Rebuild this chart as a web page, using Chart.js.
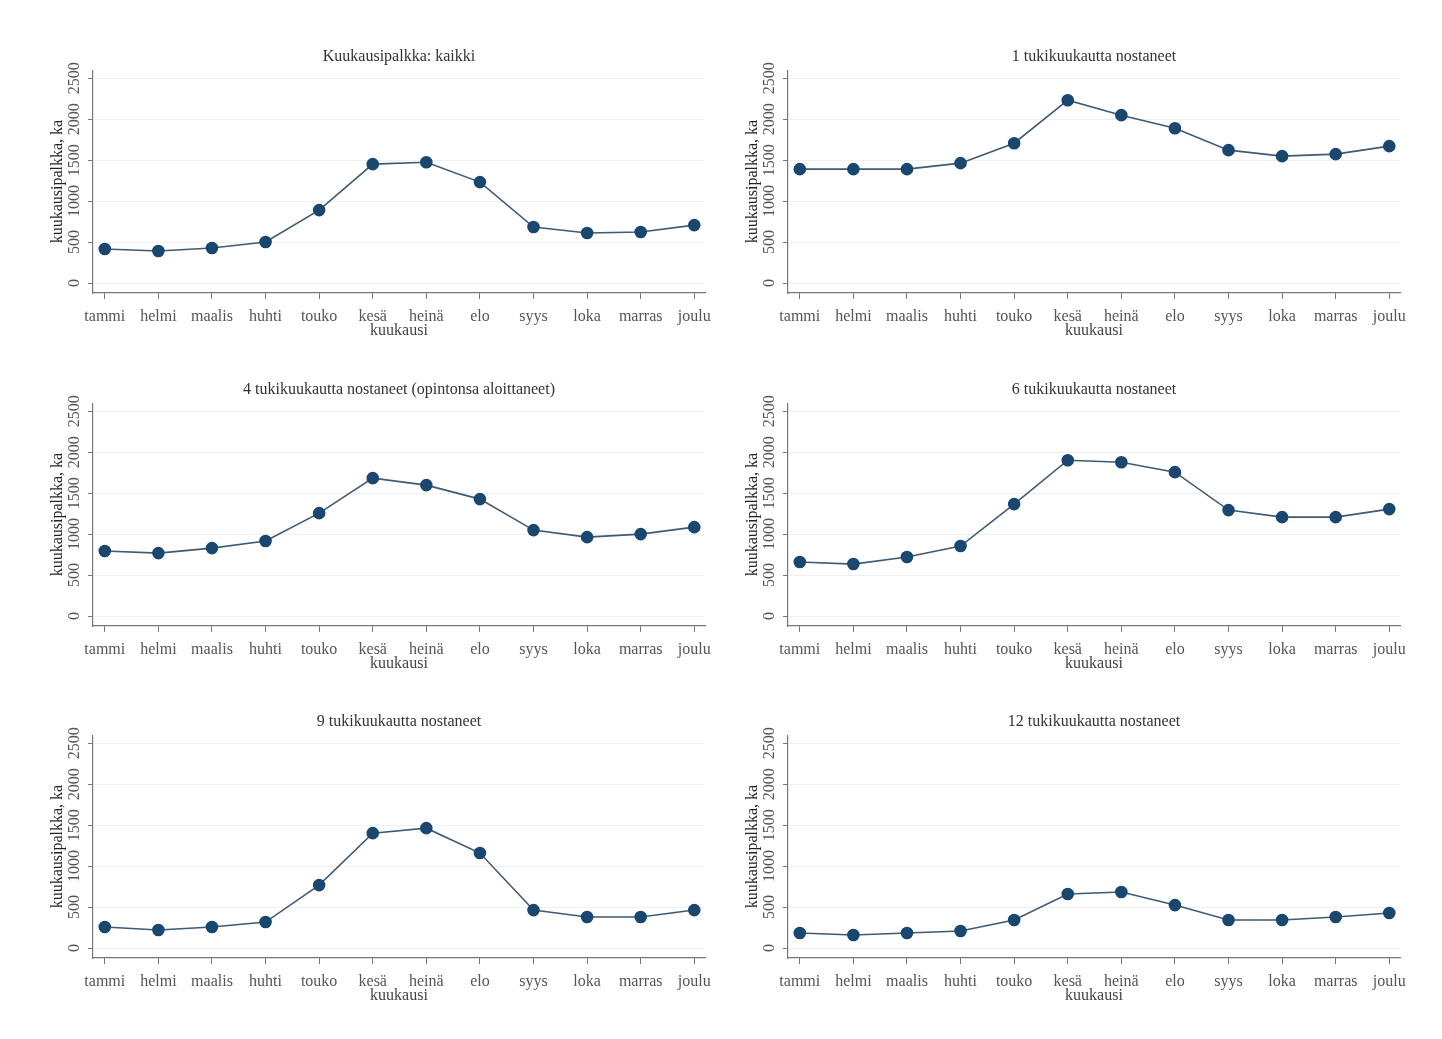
<!DOCTYPE html>
<html>
<head>
<meta charset="utf-8">
<script src="https://cdn.jsdelivr.net/npm/chart.js@4"></script>
<style>
  html, body { margin: 0; padding: 0; background: #fff; }
  body { width: 1442px; height: 1039px; position: relative; overflow: hidden; }
  .panel { position: absolute; width: 690px; height: 300px; }
</style>
</head>
<body>
<div class="panel" style="left:30px; top:40px"><canvas id="c0"></canvas></div>
<div class="panel" style="left:725px; top:40px"><canvas id="c1"></canvas></div>
<div class="panel" style="left:30px; top:373px"><canvas id="c2"></canvas></div>
<div class="panel" style="left:725px; top:373px"><canvas id="c3"></canvas></div>
<div class="panel" style="left:30px; top:705px"><canvas id="c4"></canvas></div>
<div class="panel" style="left:725px; top:705px"><canvas id="c5"></canvas></div>
<script>
const months = ['tammi', 'helmi', 'maalis', 'huhti', 'touko', 'kesä', 'heinä', 'elo', 'syys', 'loka', 'marras', 'joulu'];
const yTicks = [0, 500, 1000, 1500, 2000, 2500];

const kaikki = [415, 390, 427, 500, 890, 1451, 1475, 1232, 683, 610, 622, 707];
const tuki1 = [1390, 1390, 1390, 1463, 1707, 2232, 2049, 1890, 1622, 1549, 1573, 1671];
const tuki4 = [793, 768, 829, 915, 1256, 1683, 1598, 1427, 1049, 963, 1000, 1085];
const tuki6 = [659, 634, 720, 854, 1366, 1902, 1878, 1756, 1293, 1207, 1207, 1305];
const tuki9 = [256, 220, 256, 317, 768, 1402, 1463, 1159, 463, 378, 378, 463];
const tuki12 = [183, 159, 183, 207, 341, 659, 683, 524, 341, 341, 378, 427];

const titles = [
    'Kuukausipalkka: kaikki',
    '1 tukikuukautta nostaneet',
    '4 tukikuukautta nostaneet (opintonsa aloittaneet)',
    '6 tukikuukautta nostaneet',
    '9 tukikuukautta nostaneet',
    '12 tukikuukautta nostaneet'
];
const series = [kaikki, tuki1, tuki4, tuki6, tuki9, tuki12];

const serif = 'Liberation Serif';
const navy = '#1a476f';

series.forEach((vals, n) => {
    const ctx = document.getElementById('c' + n).getContext('2d');
    new Chart(ctx, {
        type: 'line',
        data: {
            datasets: [{
                data: vals.map((v, i) => ({ x: i, y: v })),
                borderColor: '#3e5a74',
                borderWidth: 1.6,
                backgroundColor: navy,
                pointBackgroundColor: navy,
                pointBorderColor: navy,
                pointRadius: 5.5,
                pointHoverRadius: 5.5,
                tension: 0
            }]
        },
        options: {
            responsive: true,
            maintainAspectRatio: false,
            animation: false,
            layout: { padding: { left: 19, right: 15, top: 0, bottom: 0 } },
            plugins: {
                legend: { display: false },
                tooltip: { enabled: false },
                title: {
                    display: true,
                    fullSize: false,   // keskitetään kuva-alueen ylle
                    text: titles[n],
                    color: '#333',
                    font: { family: serif, size: 16, weight: 'normal' },
                    padding: { top: 7, bottom: 4 }
                }
            },
            scales: {
                x: {
                    type: 'linear',
                    min: -0.22,
                    max: 11.2,
                    afterBuildTicks: axis => { axis.ticks = months.map((m, i) => ({ value: i })); },
                    afterFit: s => { s.height = 47; s.paddingLeft = 0; s.paddingRight = 0; },
                    ticks: {
                        callback: v => months[v],
                        color: '#555',
                        font: { family: serif, size: 16 },
                        maxRotation: 0,
                        autoSkip: false,
                        padding: 8
                    },
                    grid: { drawOnChartArea: false, drawTicks: true, tickLength: 6, color: '#777' },
                    border: { color: '#777', width: 1.2 },
                    title: {
                        display: true,
                        text: 'kuukausi',
                        color: '#444',
                        font: { family: serif, size: 16 },
                        padding: { top: 0, bottom: 0 }
                    }
                },
                y: {
                    min: -122,
                    max: 2598,
                    afterBuildTicks: axis => { axis.ticks = yTicks.map(v => ({ value: v })); },
                    afterFit: s => { s.width = 44; s.paddingTop = 0; s.paddingBottom = 0; },
                    ticks: {
                        callback: v => String(v),
                        minRotation: 90,
                        maxRotation: 90,
                        crossAlign: 'center',
                        color: '#555',
                        font: { family: serif, size: 16 },
                        padding: -3
                    },
                    grid: { color: '#eef1f3', lineWidth: 1, tickColor: '#777', tickLength: 5 },
                    border: { color: '#777', width: 1.2 },
                    title: {
                        display: true,
                        text: 'kuukausipalkka, ka',
                        color: '#222',
                        font: { family: serif, size: 16 },
                        padding: { top: -1, bottom: 2 }
                    }
                }
            }
        }
    });
});
</script>
</body>
</html>
